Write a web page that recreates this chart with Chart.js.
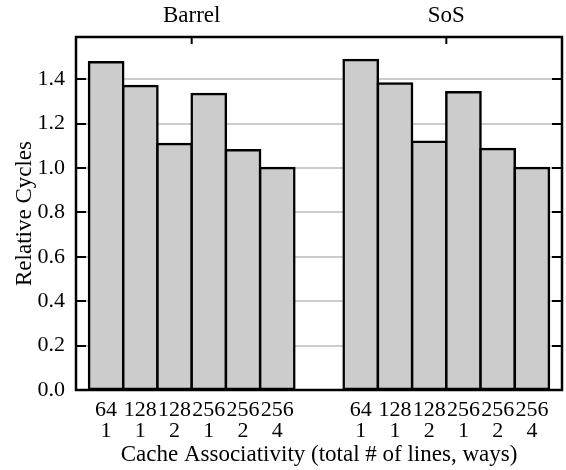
<!DOCTYPE html>
<html>
<head>
<meta charset="utf-8">
<script src="https://cdn.jsdelivr.net/npm/chart.js@4/dist/chart.umd.min.js"></script>
<style>
  html, body { margin: 0; padding: 0; background: #fff; }
  #wrap { width: 566px; height: 470px; }
</style>
</head>
<body>
<div id="wrap"><canvas id="c" width="566" height="470"></canvas></div>
<script>
// ---- data ----
const groups = ['Barrel', 'SoS'];
const totalLines = ['64', '128', '128', '256', '256', '256'];
const ways = ['1', '1', '2', '1', '2', '4'];
const barrel = [1.476, 1.369, 1.108, 1.333, 1.080, 1.000];
const sos = [1.486, 1.381, 1.118, 1.341, 1.086, 1.000];
const yTickLabels = ['0.0', '0.2', '0.4', '0.6', '0.8', '1.0', '1.2', '1.4'];
const xTitle = 'Cache Associativity (total # of lines, ways)';
const yTitle = 'Relative Cycles';

// ---- layout constants ----
const GROUP_OFFSET = 7.44;   // start of 2nd group, in bar widths
const SIDE_PAD = 0.88;       // axis edge to first bar centre
const Y_MAX = 1.59;
const FONT = "'Liberation Serif', 'Times New Roman', serif";
const FS = 22;
const FT = 23;

const seriesList = [barrel, sos];
const points = seriesList.map((vals, g) => vals.map((v, i) => ({ x: GROUP_OFFSET * g + i, y: v })));
const tickPositions = [];
seriesList.forEach((vals, g) => vals.forEach((v, i) => tickPositions.push(GROUP_OFFSET * g + i)));
const groupCenters = seriesList.map((vals, g) => GROUP_OFFSET * g + (vals.length - 1) / 2);
const xMin = -SIDE_PAD;
const xMax = GROUP_OFFSET + (sos.length - 1) + SIDE_PAD;

Chart.defaults.color = '#000';
Chart.defaults.font.family = FONT;
Chart.defaults.font.size = FS;

const framePlugin = {
  id: 'frame',
  afterDatasetsDraw(chart) {
    const { ctx, chartArea: a, scales } = chart;
    ctx.save();
    ctx.strokeStyle = '#000';
    ctx.lineWidth = 2;
    ctx.beginPath();
    yTickLabels.forEach(lbl => {
      const py = Math.round(scales.y.getPixelForValue(parseFloat(lbl)));
      ctx.moveTo(a.left, py); ctx.lineTo(a.left + 10, py);
      ctx.moveTo(a.right, py); ctx.lineTo(a.right - 10, py);
    });
    groupCenters.forEach(c => {
      const px = scales.x.getPixelForValue(c);
      ctx.moveTo(px, a.top); ctx.lineTo(px, a.top + 7);
    });
    ctx.stroke();
    ctx.lineWidth = 2.5;
    ctx.strokeRect(a.left, a.top, a.right - a.left, a.bottom - a.top);
    ctx.restore();
  }
};

const barStyle = {
  backgroundColor: '#cccccc',
  borderColor: '#000',
  borderWidth: 2.5,
  inflateAmount: 1.25,
  borderSkipped: false,
  grouped: false,
  barPercentage: 1,
  categoryPercentage: 1
};

new Chart(document.getElementById('c'), {
  type: 'bar',
  data: {
    datasets: groups.map((g, k) => Object.assign({ label: g, data: points[k] }, barStyle))
  },
  options: {
    responsive: false,
    animation: false,
    layout: { padding: { left: 0, right: 4, top: 0, bottom: 0 } },
    plugins: { legend: { display: false }, tooltip: { enabled: false } },
    scales: {
      x: {
        type: 'linear',
        position: 'bottom',
        offset: false,
        min: xMin, max: xMax,
        grid: { display: false, drawTicks: false, offset: false },
        border: { display: false },
        afterBuildTicks: s => { s.ticks = tickPositions.map(v => ({ value: v })); },
        ticks: {
          autoSkip: false, maxRotation: 0, padding: 10,
          font: { size: FS, lineHeight: 0.96 },
          callback: (v, i) => [totalLines[i % totalLines.length], ways[i % ways.length]]
        },
        title: { display: true, text: xTitle, font: { size: FT, lineHeight: 1.0 }, padding: { top: 0, bottom: 4 } },
        afterFit: s => { s.height = 80; }
      },
      x2: {
        type: 'linear',
        position: 'top',
        offset: false,
        min: xMin, max: xMax,
        grid: { display: false, drawTicks: false, offset: false },
        border: { display: false },
        afterBuildTicks: s => { s.ticks = groupCenters.map(v => ({ value: v })); },
        ticks: {
          autoSkip: false, maxRotation: 0, padding: 10,
          font: { size: FT, lineHeight: 1.0 },
          callback: (v, i) => groups[i]
        },
        afterFit: s => { s.height = 37; }
      },
      y: {
        type: 'linear',
        min: 0, max: Y_MAX,
        grid: { color: '#cccccc', lineWidth: 2, drawTicks: false },
        border: { display: false },
        afterBuildTicks: s => {
          const t = [];
          for (let k = 0; k <= 15; k++) t.push({ value: k / 10 });
          s.ticks = t;
        },
        ticks: {
          padding: 11,
          font: { size: FS, lineHeight: 1.0 },
          callback: v => {
            const lbl = v.toFixed(1);
            return yTickLabels.includes(lbl) ? lbl : '';
          }
        },
        title: { display: true, text: yTitle, font: { size: FT, lineHeight: 1.0 }, padding: { top: 13, bottom: 0 } },
        afterFit: s => { s.width = 76; }
      }
    }
  },
  plugins: [framePlugin]
});
</script>
</body>
</html>
